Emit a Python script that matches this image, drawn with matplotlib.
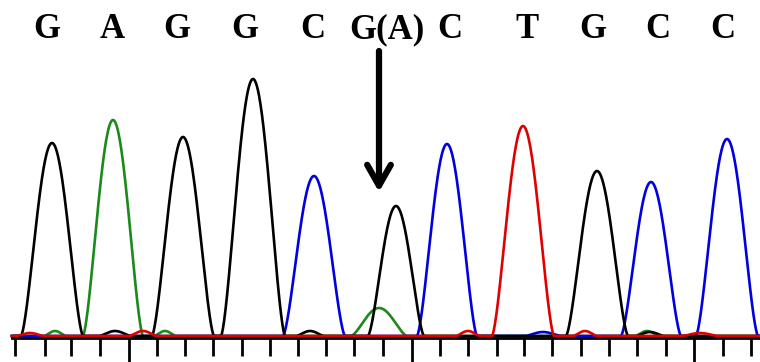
import numpy as np
import matplotlib.pyplot as plt

# called bases along the top
bases = ["G", "A", "G", "G", "C", "G(A)", "C", "T", "G", "C", "C"]
base_x = [47, 112, 177, 245, 313, 387, 450, 527, 593, 658, 723]

# peaks per channel: centre, height, half base width
g_pos = [52, 183, 253, 396, 597, 115, 310, 650]
g_height = [193, 199, 257, 130, 165, 5, 5, 4]
g_width = [31, 31, 32, 28, 31, 16, 14, 14]

a_pos = [113, 379, 55, 165, 647]
a_height = [216, 28, 5, 5, 5]
a_width = [30, 28, 11, 11, 12]

c_pos = [314, 447, 651, 727, 543]
c_height = [160, 192, 154, 197, 4]
c_width = [31, 30, 30, 31, 18]

t_pos = [523, 143, 468, 585, 30, 700]
t_height = [210, 5, 5, 5, 3, 3]
t_width = [31, 14, 12, 12, 14, 18]

tick_x = [15, 45, 71, 100, 129, 157, 185, 213, 242, 270, 298, 326, 354,
          383, 412, 440, 468, 497, 524, 552, 581, 609, 637, 666, 694, 723, 751]
long_ticks = [129, 412, 694]


def trace(x, pos, height, width):
    y = np.zeros_like(x)
    for p, h, w in zip(pos, height, width):
        d = np.clip(np.abs(x - p) / w, 0, 1)
        y += h * np.cos(np.pi / 2 * d) ** 1.5
    return y


fig = plt.figure(figsize=(7.6, 3.62), dpi=100)
ax = fig.add_axes([0, 0, 1, 1])
ax.set_xlim(0, 760)
ax.set_ylim(-24, 338)
ax.axis("off")

x = np.linspace(12, 760, 1500)
lw = 1.9
ax.plot(x, trace(x, a_pos, a_height, a_width) + 2, color="#1a8a1a", lw=lw)
ax.plot(x, trace(x, c_pos, c_height, c_width) + 2, color="#0000e0", lw=lw)
ax.plot(x, trace(x, g_pos, g_height, g_width) + 2, color="black", lw=lw)
ax.plot(x, trace(x, t_pos, t_height, t_width) + 2, color="#e00000", lw=lw)

# baseline and scan ticks
ax.plot([12, 760], [0, 0], color="black", lw=2)
for tx in tick_x:
    bottom = -26 if tx in long_ticks else -18
    ax.plot([tx, tx], [0, bottom], color="black", lw=2, solid_capstyle="butt")

for b, bx in zip(bases, base_x):
    ax.text(bx, 300, b, ha="center", va="baseline", fontsize=25,
            fontweight="bold", family="Liberation Serif")

ax.annotate("", xy=(379, 146), xytext=(379, 287),
            arrowprops=dict(arrowstyle="->,head_length=1.5,head_width=0.85",
                            color="black", lw=4.5, shrinkA=0, shrinkB=0))

fig.savefig("out.png", dpi=100)
